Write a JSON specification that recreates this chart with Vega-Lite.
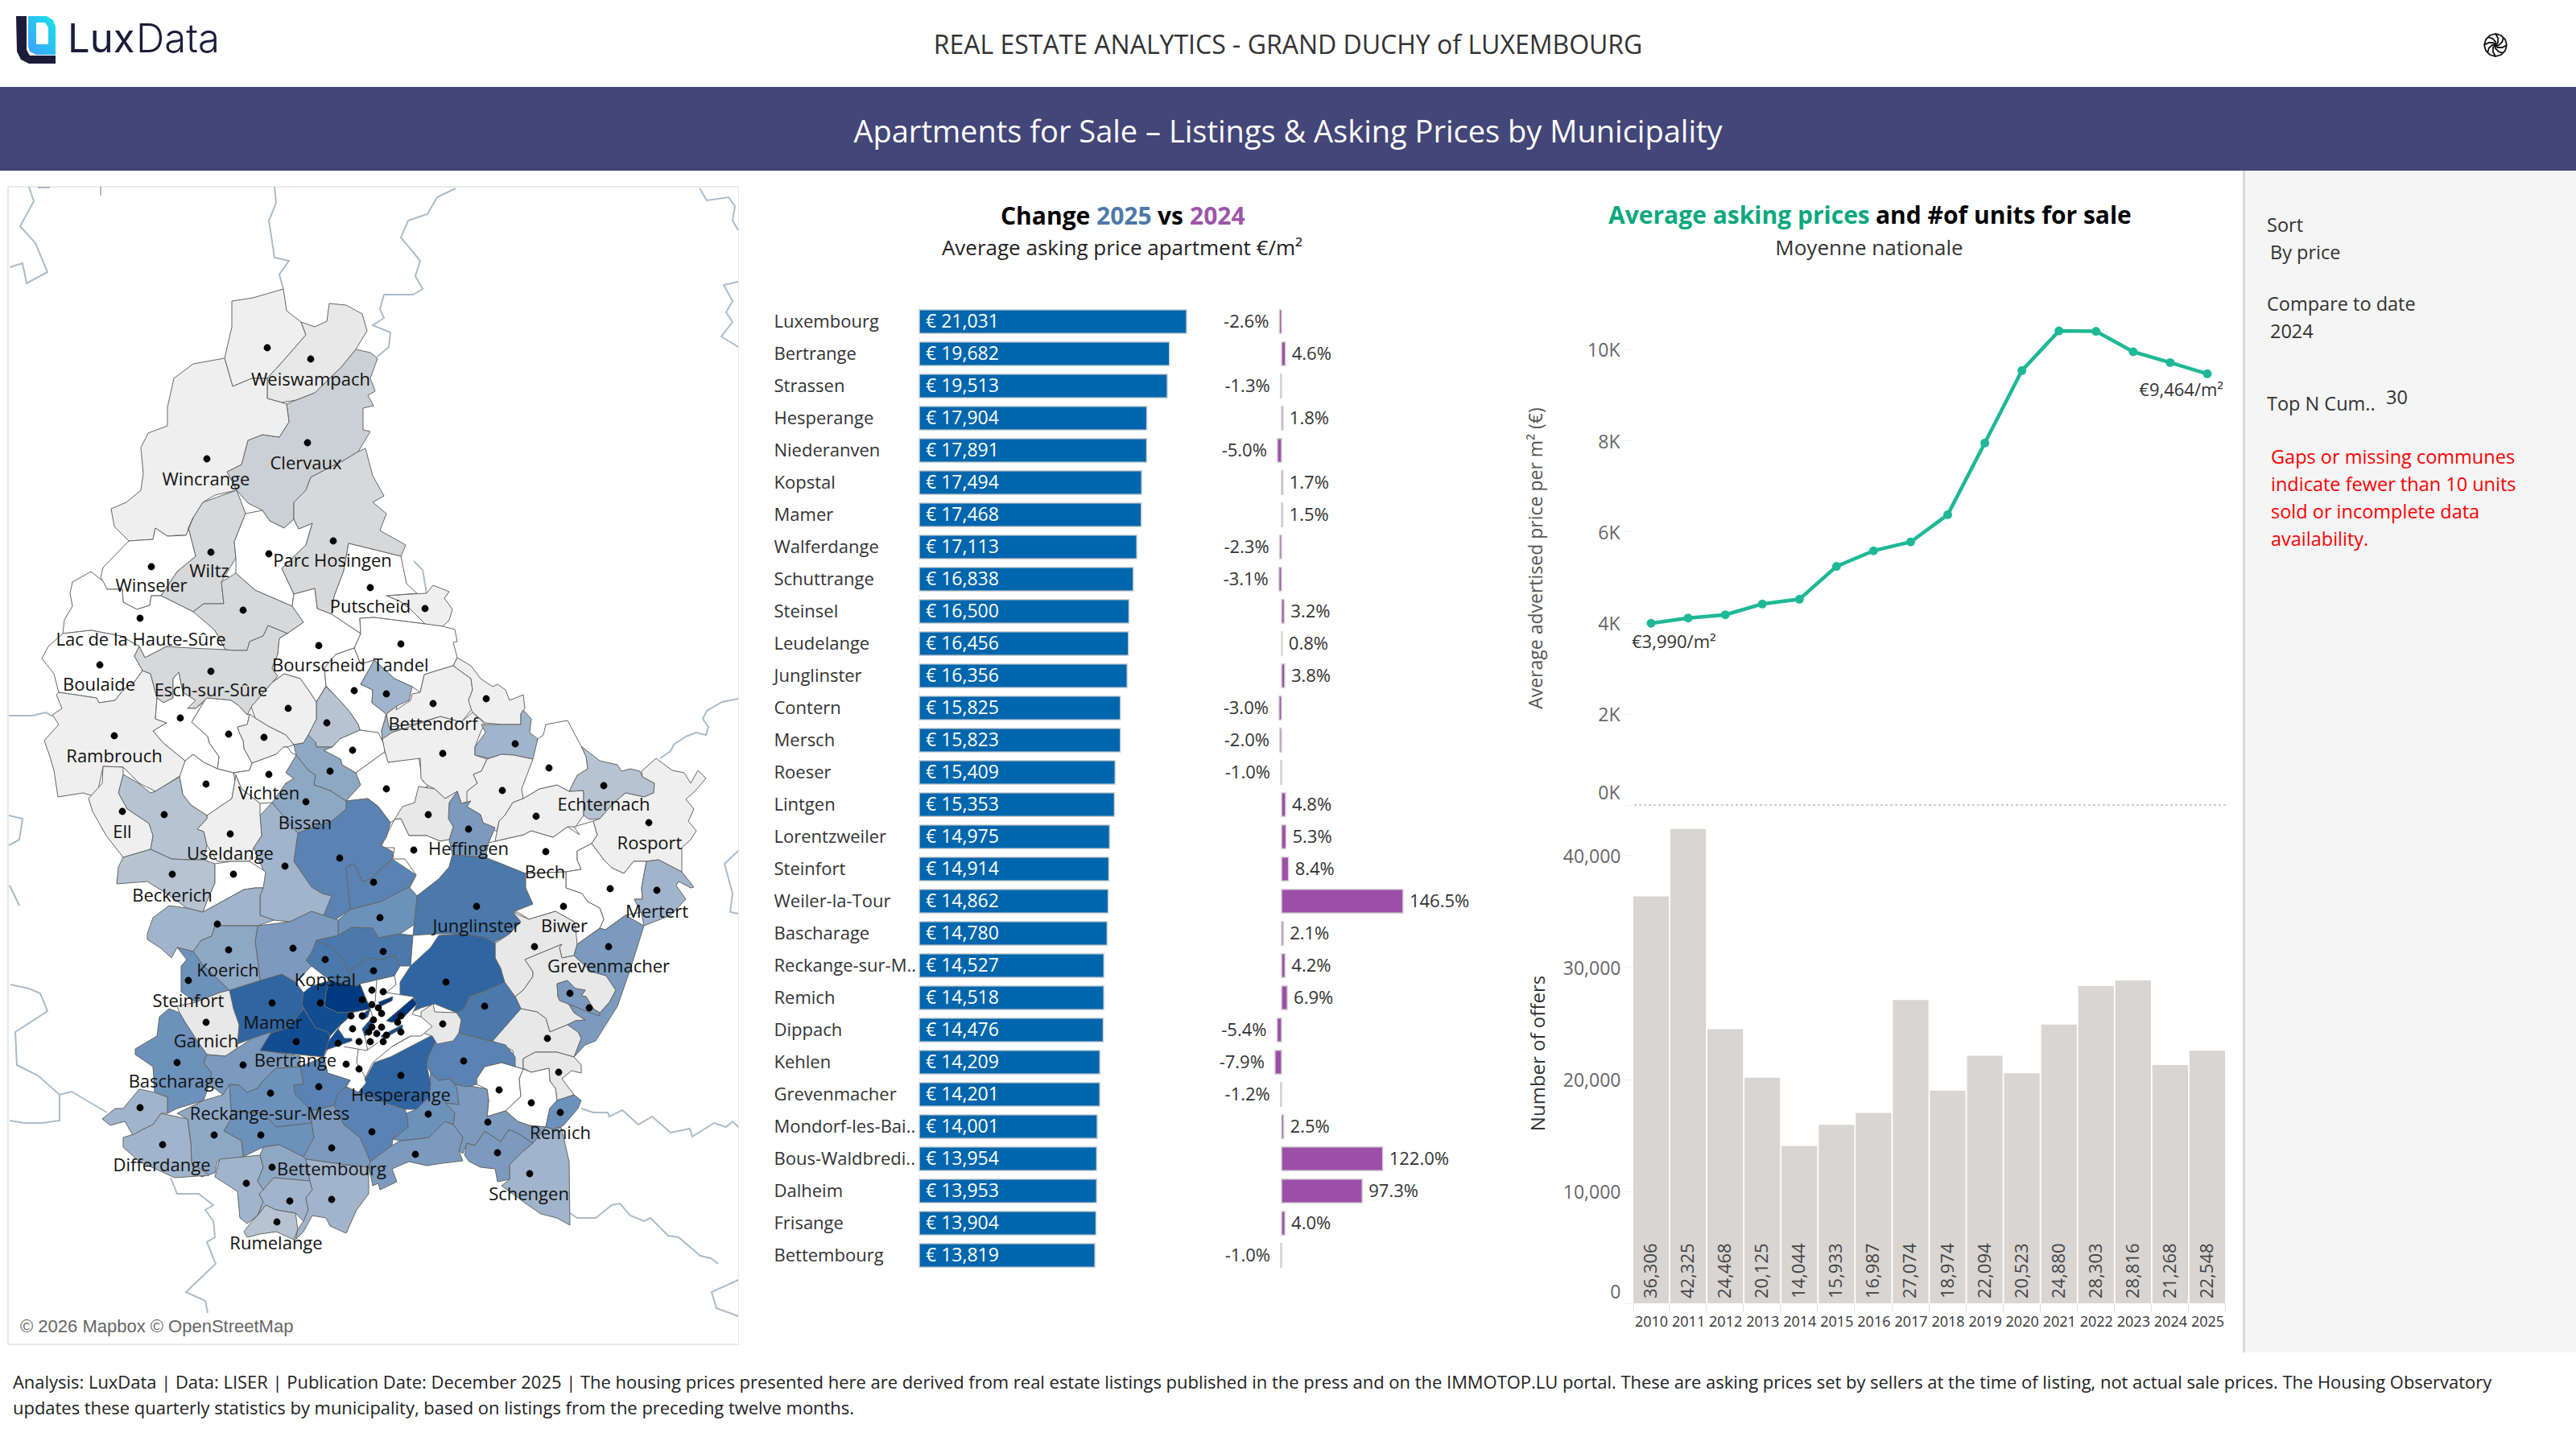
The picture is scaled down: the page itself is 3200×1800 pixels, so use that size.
{
"$schema":"https://vega.github.io/schema/vega-lite/v6.json",
"padding":0,"spacing":0,"background":"#ffffff",
"config":{"font":"Open Sans","view":{"stroke":null},"concat":{"spacing":0}},
"datasets":{
"one":[{"a":1}],
"rank":[
{"name":"Luxembourg","price":21031,"pct":-0.026},{"name":"Bertrange","price":19682,"pct":0.046},{"name":"Strassen","price":19513,"pct":-0.013},{"name":"Hesperange","price":17904,"pct":0.018},{"name":"Niederanven","price":17891,"pct":-0.05},{"name":"Kopstal","price":17494,"pct":0.017},{"name":"Mamer","price":17468,"pct":0.015},{"name":"Walferdange","price":17113,"pct":-0.023},{"name":"Schuttrange","price":16838,"pct":-0.031},{"name":"Steinsel","price":16500,"pct":0.032},{"name":"Leudelange","price":16456,"pct":0.008},{"name":"Junglinster","price":16356,"pct":0.038},{"name":"Contern","price":15825,"pct":-0.03},{"name":"Mersch","price":15823,"pct":-0.02},{"name":"Roeser","price":15409,"pct":-0.01},{"name":"Lintgen","price":15353,"pct":0.048},{"name":"Lorentzweiler","price":14975,"pct":0.053},{"name":"Steinfort","price":14914,"pct":0.084},{"name":"Weiler-la-Tour","price":14862,"pct":1.465},{"name":"Bascharage","price":14780,"pct":0.021},{"name":"Reckange-sur-M..","price":14527,"pct":0.042},{"name":"Remich","price":14518,"pct":0.069},{"name":"Dippach","price":14476,"pct":-0.054},{"name":"Kehlen","price":14209,"pct":-0.079},{"name":"Grevenmacher","price":14201,"pct":-0.012},{"name":"Mondorf-les-Bai..","price":14001,"pct":0.025},{"name":"Bous-Waldbredi..","price":13954,"pct":1.22},{"name":"Dalheim","price":13953,"pct":0.973},{"name":"Frisange","price":13904,"pct":0.04},{"name":"Bettembourg","price":13819,"pct":-0.01}],
"years":[
{"year":"2010","price":3990,"offers":36306},{"year":"2011","price":4104,"offers":42325},{"year":"2012","price":4174,"offers":24468},{"year":"2013","price":4411,"offers":20125},{"year":"2014","price":4517,"offers":14044},{"year":"2015","price":5237,"offers":15933},{"year":"2016","price":5580,"offers":16987},{"year":"2017","price":5773,"offers":27074},{"year":"2018","price":6371,"offers":18974},{"year":"2019","price":7944,"offers":22094},{"year":"2020","price":9534,"offers":20523},{"year":"2021","price":10404,"offers":24880},{"year":"2022","price":10396,"offers":28303},{"year":"2023","price":9947,"offers":28816},{"year":"2024","price":9710,"offers":21268},{"year":"2025","price":9464,"offers":22548}],
"communes":[
{"type":"Feature","properties":{"t":"t1"},"geometry":{"type":"Polygon","coordinates":[[[352,359],[356,386],[374,400],[380,416],[353,447],[332,470],[313,470],[289,480],[279,445],[288,406],[288,374],[314,370],[352,359]]]}},
{"type":"Feature","properties":{"t":"t2"},"geometry":{"type":"Polygon","coordinates":[[[374,400],[391,406],[406,399],[409,377],[430,379],[450,390],[456,411],[442,434],[424,456],[391,488],[368,497],[350,500],[332,495],[332,470],[353,447],[380,416],[374,400]]]}},
{"type":"Feature","properties":{"t":"t4"},"geometry":{"type":"Polygon","coordinates":[[[442,434],[460,438],[469,445],[460,470],[466,486],[457,491],[464,504],[451,507],[451,534],[460,536],[445,561],[427,572],[403,584],[386,593],[380,609],[365,624],[365,645],[353,656],[335,647],[326,634],[308,625],[294,609],[282,586],[300,577],[308,547],[326,540],[347,543],[359,524],[356,502],[368,497],[391,488],[424,456],[442,434]]]}},
{"type":"Feature","properties":{"t":"t1"},"geometry":{"type":"Polygon","coordinates":[[[279,445],[289,480],[313,470],[332,470],[332,495],[350,500],[356,502],[359,524],[347,543],[326,540],[308,547],[300,577],[282,586],[294,609],[267,615],[252,624],[240,643],[231,665],[219,665],[208,666],[193,656],[190,670],[160,672],[142,654],[138,632],[157,624],[175,609],[178,588],[175,556],[184,538],[208,529],[208,506],[216,470],[240,452],[279,445]]]}},
{"type":"Feature","properties":{"t":"t3"},"geometry":{"type":"Polygon","coordinates":[[[252,624],[294,609],[305,638],[291,673],[293,693],[275,723],[278,750],[253,750],[240,760],[200,740],[220,710],[243,691],[234,656],[240,643],[252,624]]]}},
{"type":"Feature","properties":{"t":"t0"},"geometry":{"type":"Polygon","coordinates":[[[160,672],[190,670],[193,656],[208,666],[231,665],[240,643],[234,656],[243,691],[220,710],[200,740],[188,740],[186,752],[170,757],[153,748],[152,732],[133,732],[125,717],[128,705],[160,672]]]}},
{"type":"Feature","properties":{"t":"t0"},"geometry":{"type":"Polygon","coordinates":[[[90,723],[113,710],[128,722],[133,732],[152,732],[153,748],[170,757],[186,752],[188,740],[200,740],[240,760],[253,750],[267,783],[280,807],[240,807],[207,803],[180,817],[173,803],[150,790],[113,783],[78,787],[80,770],[90,753],[87,737],[90,723]]]}},
{"type":"Feature","properties":{"t":"t0"},"geometry":{"type":"Polygon","coordinates":[[[78,787],[113,783],[150,790],[173,803],[167,815],[177,833],[167,847],[153,857],[143,870],[123,873],[120,867],[93,863],[73,860],[67,837],[52,818],[60,803],[78,787]]]}},
{"type":"Feature","properties":{"t":"t1"},"geometry":{"type":"Polygon","coordinates":[[[73,860],[93,863],[120,867],[123,873],[143,870],[153,857],[167,847],[177,833],[187,837],[195,867],[193,893],[207,898],[190,908],[203,923],[230,945],[225,963],[193,983],[173,973],[153,953],[128,952],[120,990],[103,985],[72,990],[67,957],[62,940],[55,920],[73,900],[65,888],[77,880],[70,863],[73,860]]]}},
{"type":"Feature","properties":{"t":"t3"},"geometry":{"type":"Polygon","coordinates":[[[240,760],[253,750],[278,750],[275,723],[293,712],[317,733],[340,743],[363,753],[377,773],[357,787],[333,777],[327,790],[310,797],[307,808],[290,808],[280,807],[267,783],[240,760]]]}},
{"type":"Feature","properties":{"t":"t3"},"geometry":{"type":"Polygon","coordinates":[[[167,815],[173,803],[180,817],[207,803],[237,805],[280,807],[290,808],[307,808],[310,797],[327,790],[333,777],[357,787],[347,793],[345,813],[338,830],[345,840],[338,848],[313,877],[307,888],[297,877],[287,870],[257,867],[243,880],[233,880],[243,870],[227,860],[222,835],[215,843],[215,867],[203,873],[195,867],[187,837],[177,833],[167,815]]]}},
{"type":"Feature","properties":{"t":"t0"},"geometry":{"type":"Polygon","coordinates":[[[305,638],[326,634],[335,647],[353,656],[365,645],[371,657],[388,650],[380,677],[350,706],[365,738],[363,753],[340,743],[317,733],[293,712],[293,693],[291,673],[305,638]]]}},
{"type":"Feature","properties":{"t":"t3"},"geometry":{"type":"Polygon","coordinates":[[[403,584],[427,572],[445,561],[454,557],[463,591],[477,616],[463,624],[480,638],[472,659],[504,677],[498,691],[433,675],[427,709],[415,741],[412,763],[394,756],[391,731],[365,738],[350,706],[380,677],[388,650],[371,657],[365,645],[365,624],[380,609],[386,593],[403,584]]]}},
{"type":"Feature","properties":{"t":"t1"},"geometry":{"type":"Polygon","coordinates":[[[480,740],[510,738],[530,737],[538,727],[558,735],[552,743],[562,757],[558,770],[550,778],[540,778],[528,775],[510,757],[497,747],[480,740]]]}},
{"type":"Feature","properties":{"t":"t0"},"geometry":{"type":"Polygon","coordinates":[[[433,675],[498,691],[505,725],[518,737],[480,740],[497,747],[510,757],[528,775],[465,767],[447,768],[448,787],[430,775],[412,763],[415,741],[427,709],[433,675]]]}},
{"type":"Feature","properties":{"t":"t0"},"geometry":{"type":"Polygon","coordinates":[[[448,787],[447,768],[465,767],[528,775],[550,778],[565,782],[568,797],[563,798],[568,817],[563,827],[543,833],[527,838],[522,860],[512,853],[490,843],[465,820],[448,825],[440,805],[448,787]]]}},
{"type":"Feature","properties":{"t":"t0"},"geometry":{"type":"Polygon","coordinates":[[[365,738],[391,731],[394,756],[412,763],[430,775],[448,787],[440,805],[417,813],[403,830],[405,852],[393,872],[383,857],[373,843],[353,837],[338,848],[345,840],[338,830],[345,813],[347,793],[357,787],[377,773],[363,753],[365,738]]]}},
{"type":"Feature","properties":{"t":"t0"},"geometry":{"type":"Polygon","coordinates":[[[405,852],[403,830],[417,813],[440,805],[448,825],[465,820],[448,850],[463,857],[462,873],[480,887],[474,908],[475,920],[455,908],[447,907],[445,900],[435,885],[422,870],[405,852]]]}},
{"type":"Feature","properties":{"t":"t6"},"geometry":{"type":"Polygon","coordinates":[[[465,820],[490,843],[512,853],[508,870],[493,877],[480,887],[485,907],[500,905],[475,920],[474,908],[480,887],[462,873],[463,857],[448,850],[465,820]]]}},
{"type":"Feature","properties":{"t":"t5"},"geometry":{"type":"Polygon","coordinates":[[[393,872],[405,853],[422,870],[435,885],[445,900],[447,907],[422,918],[413,928],[393,928],[392,922],[383,913],[393,893],[393,872]]]}},
{"type":"Feature","properties":{"t":"t1"},"geometry":{"type":"Polygon","coordinates":[[[312,878],[338,848],[353,837],[373,843],[383,857],[393,872],[393,893],[383,913],[377,923],[365,925],[355,913],[333,902],[317,892],[312,878]]]}},
{"type":"Feature","properties":{"t":"t1"},"geometry":{"type":"Polygon","coordinates":[[[295,903],[307,900],[310,887],[317,892],[333,902],[355,913],[365,925],[357,928],[352,928],[343,937],[313,948],[303,930],[302,920],[297,910],[295,903]]]}},
{"type":"Feature","properties":{"t":"t0"},"geometry":{"type":"Polygon","coordinates":[[[238,897],[253,872],[257,867],[287,870],[297,877],[307,888],[310,887],[307,900],[295,903],[297,910],[302,920],[303,930],[313,948],[310,957],[290,960],[270,955],[272,940],[260,923],[258,915],[238,897]]]}},
{"type":"Feature","properties":{"t":"t0"},"geometry":{"type":"Polygon","coordinates":[[[195,867],[203,873],[215,867],[215,843],[222,835],[227,860],[243,870],[233,880],[243,880],[253,872],[238,897],[258,915],[260,923],[272,940],[270,955],[253,947],[240,937],[230,945],[203,923],[190,908],[207,898],[193,893],[195,867]]]}},
{"type":"Feature","properties":{"t":"t7"},"geometry":{"type":"Polygon","coordinates":[[[365,925],[377,923],[383,913],[392,922],[393,928],[413,928],[402,932],[423,943],[425,950],[442,960],[448,975],[437,987],[430,995],[410,982],[390,975],[392,963],[383,957],[368,938],[365,925]]]}},
{"type":"Feature","properties":{"t":"t0"},"geometry":{"type":"Polygon","coordinates":[[[402,932],[413,928],[422,918],[447,907],[470,910],[478,927],[478,934],[442,960],[425,950],[423,943],[402,932]]]}},
{"type":"Feature","properties":{"t":"t0"},"geometry":{"type":"Polygon","coordinates":[[[442,960],[478,934],[483,947],[520,940],[525,970],[532,977],[522,980],[517,1000],[492,1017],[485,1022],[470,1002],[457,992],[430,995],[437,987],[448,975],[442,960]]]}},
{"type":"Feature","properties":{"t":"t1"},"geometry":{"type":"Polygon","coordinates":[[[492,882],[510,870],[512,862],[522,860],[527,838],[543,833],[563,827],[585,843],[587,857],[582,870],[587,880],[573,897],[547,890],[513,900],[483,903],[480,887],[493,877],[492,882]]]}},
{"type":"Feature","properties":{"t":"t1"},"geometry":{"type":"Polygon","coordinates":[[[475,918],[487,910],[547,890],[573,897],[587,885],[603,900],[598,907],[590,928],[590,938],[605,943],[598,958],[588,962],[593,973],[580,983],[585,995],[573,998],[568,983],[553,992],[540,980],[530,975],[523,967],[522,942],[482,947],[478,933],[475,918]]]}},
{"type":"Feature","properties":{"t":"t1"},"geometry":{"type":"Polygon","coordinates":[[[563,827],[568,817],[585,827],[597,843],[612,853],[618,850],[628,857],[633,870],[650,863],[652,880],[647,887],[647,900],[623,900],[603,898],[587,885],[585,880],[582,870],[587,857],[585,843],[563,827]]]}},
{"type":"Feature","properties":{"t":"t6"},"geometry":{"type":"Polygon","coordinates":[[[598,900],[623,900],[647,900],[647,887],[650,882],[660,893],[658,910],[668,918],[668,933],[662,943],[638,938],[623,937],[607,942],[590,938],[590,928],[603,910],[598,900]]]}},
{"type":"Feature","properties":{"t":"t1"},"geometry":{"type":"Polygon","coordinates":[[[605,943],[623,937],[638,938],[662,943],[660,963],[652,977],[650,992],[637,997],[627,1013],[620,1020],[617,1033],[600,1022],[597,1012],[580,1002],[580,983],[593,973],[588,962],[598,958],[605,943]]]}},
{"type":"Feature","properties":{"t":"t8"},"geometry":{"type":"Polygon","coordinates":[[[568,983],[573,998],[585,995],[580,1002],[597,1012],[600,1022],[615,1028],[607,1047],[603,1065],[562,1062],[558,1043],[563,1027],[557,1017],[558,997],[568,983]]]}},
{"type":"Feature","properties":{"t":"t2"},"geometry":{"type":"Polygon","coordinates":[[[520,977],[540,980],[553,992],[568,983],[558,997],[557,1017],[563,1027],[558,1043],[547,1045],[530,1038],[508,1038],[498,1017],[490,1018],[500,1002],[515,997],[520,977]]]}},
{"type":"Feature","properties":{"t":"t0"},"geometry":{"type":"Polygon","coordinates":[[[490,1018],[498,1017],[508,1038],[530,1038],[547,1045],[558,1043],[562,1062],[558,1077],[545,1092],[518,1113],[509,1103],[517,1087],[503,1067],[488,1067],[490,1053],[473,1053],[478,1042],[490,1018]]]}},
{"type":"Feature","properties":{"t":"t10"},"geometry":{"type":"Polygon","coordinates":[[[430,995],[457,992],[470,1002],[485,1022],[480,1040],[473,1050],[488,1058],[487,1067],[460,1092],[450,1095],[440,1073],[430,1077],[435,1130],[413,1145],[402,1137],[412,1113],[400,1110],[387,1102],[365,1070],[370,1035],[390,1027],[412,1020],[430,1005],[430,995]]]}},
{"type":"Feature","properties":{"t":"t10"},"geometry":{"type":"Polygon","coordinates":[[[430,1077],[440,1073],[450,1095],[460,1092],[487,1067],[517,1087],[508,1102],[473,1120],[435,1130],[430,1077]]]}},
{"type":"Feature","properties":{"t":"t9"},"geometry":{"type":"Polygon","coordinates":[[[435,1130],[473,1120],[508,1102],[518,1113],[517,1147],[497,1160],[470,1165],[463,1153],[437,1152],[420,1162],[420,1143],[435,1130]]]}},
{"type":"Feature","properties":{"t":"t11"},"geometry":{"type":"Polygon","coordinates":[[[562,1062],[603,1065],[653,1085],[653,1103],[662,1123],[637,1133],[647,1145],[633,1160],[615,1170],[610,1177],[603,1165],[577,1160],[540,1160],[513,1162],[518,1113],[545,1092],[558,1077],[562,1062]]]}},
{"type":"Feature","properties":{"t":"t0"},"geometry":{"type":"Polygon","coordinates":[[[607,1047],[650,1037],[660,1032],[687,1040],[705,1027],[720,1037],[713,1027],[737,1020],[742,1037],[735,1048],[717,1057],[717,1068],[722,1080],[703,1083],[653,1085],[603,1065],[607,1047]]]}},
{"type":"Feature","properties":{"t":"t1"},"geometry":{"type":"Polygon","coordinates":[[[650,992],[670,980],[692,975],[707,983],[725,982],[725,1013],[715,1027],[705,1027],[687,1040],[660,1032],[650,1037],[615,1045],[620,1020],[627,1013],[637,997],[650,992]]]}},
{"type":"Feature","properties":{"t":"t5"},"geometry":{"type":"Polygon","coordinates":[[[722,927],[745,945],[767,950],[772,958],[783,955],[795,958],[798,965],[813,973],[812,985],[800,990],[777,985],[763,997],[745,1017],[732,1018],[725,1013],[725,982],[707,983],[717,963],[730,955],[728,940],[722,927]]]}},
{"type":"Feature","properties":{"t":"t0"},"geometry":{"type":"Polygon","coordinates":[[[678,900],[705,895],[722,927],[728,940],[730,955],[717,963],[707,983],[692,975],[670,980],[650,992],[648,980],[662,943],[668,918],[675,913],[678,900]]]}},
{"type":"Feature","properties":{"t":"t1"},"geometry":{"type":"Polygon","coordinates":[[[797,958],[815,942],[835,957],[850,960],[858,973],[867,957],[877,967],[863,983],[852,993],[862,1005],[855,1020],[865,1032],[858,1043],[847,1053],[847,1083],[818,1068],[803,1070],[787,1070],[775,1085],[760,1078],[750,1068],[735,1048],[742,1037],[737,1020],[745,1017],[763,997],[777,985],[800,990],[812,985],[813,973],[798,965],[797,958]]]}},
{"type":"Feature","properties":{"t":"t0"},"geometry":{"type":"Polygon","coordinates":[[[717,1057],[735,1048],[750,1068],[760,1078],[775,1085],[787,1070],[803,1070],[797,1103],[798,1117],[788,1117],[797,1133],[777,1137],[752,1155],[745,1153],[750,1142],[745,1128],[730,1120],[723,1110],[703,1103],[703,1083],[722,1080],[717,1068],[717,1057]]]}},
{"type":"Feature","properties":{"t":"t6"},"geometry":{"type":"Polygon","coordinates":[[[803,1070],[818,1068],[847,1083],[862,1102],[858,1103],[843,1095],[840,1100],[852,1117],[833,1137],[800,1150],[797,1135],[788,1117],[798,1117],[797,1103],[803,1070]]]}},
{"type":"Feature","properties":{"t":"t0"},"geometry":{"type":"Polygon","coordinates":[[[653,1085],[703,1083],[703,1103],[723,1110],[730,1120],[745,1128],[750,1142],[745,1153],[717,1173],[713,1160],[713,1145],[690,1132],[657,1142],[643,1133],[637,1133],[662,1123],[653,1103],[653,1085]]]}},
{"type":"Feature","properties":{"t":"t2"},"geometry":{"type":"Polygon","coordinates":[[[637,1133],[657,1142],[690,1132],[713,1145],[715,1153],[717,1173],[713,1187],[698,1190],[695,1177],[698,1173],[652,1192],[662,1207],[662,1213],[650,1230],[640,1238],[627,1230],[622,1203],[615,1190],[615,1172],[633,1160],[647,1145],[637,1133]]]}},
{"type":"Feature","properties":{"t":"t2"},"geometry":{"type":"Polygon","coordinates":[[[698,1173],[695,1177],[698,1190],[713,1187],[735,1207],[753,1212],[757,1218],[765,1230],[757,1245],[745,1258],[737,1253],[728,1238],[722,1237],[727,1230],[715,1228],[705,1218],[692,1222],[693,1238],[707,1248],[713,1258],[727,1267],[715,1268],[705,1273],[683,1282],[678,1265],[667,1257],[647,1253],[640,1238],[650,1230],[662,1213],[662,1207],[652,1192],[698,1173]]]}},
{"type":"Feature","properties":{"t":"t8"},"geometry":{"type":"Polygon","coordinates":[[[745,1153],[752,1155],[777,1137],[800,1150],[782,1207],[767,1250],[740,1293],[727,1298],[713,1313],[722,1290],[718,1282],[705,1273],[715,1268],[727,1267],[713,1258],[707,1248],[745,1260],[757,1245],[765,1230],[757,1218],[753,1212],[735,1207],[713,1187],[717,1173],[745,1153]]]}},
{"type":"Feature","properties":{"t":"t8"},"geometry":{"type":"Polygon","coordinates":[[[692,1222],[705,1218],[715,1228],[727,1230],[722,1237],[728,1238],[737,1253],[745,1258],[745,1262],[733,1258],[713,1250],[695,1243],[693,1238],[692,1222]]]}},
{"type":"Feature","properties":{"t":"t2"},"geometry":{"type":"Polygon","coordinates":[[[647,1253],[667,1257],[678,1265],[683,1282],[705,1273],[718,1282],[722,1290],[713,1313],[692,1307],[665,1307],[650,1315],[650,1328],[640,1325],[637,1305],[612,1293],[647,1253]]]}},
{"type":"Feature","properties":{"t":"t2"},"geometry":{"type":"Polygon","coordinates":[[[665,1307],[692,1307],[713,1313],[722,1323],[722,1333],[710,1330],[698,1340],[713,1360],[692,1367],[690,1352],[683,1343],[682,1327],[660,1332],[650,1327],[650,1315],[665,1307]]]}},
{"type":"Feature","properties":{"t":"t0"},"geometry":{"type":"Polygon","coordinates":[[[592,1340],[602,1325],[623,1320],[640,1325],[650,1328],[645,1340],[647,1362],[628,1380],[605,1387],[607,1367],[605,1353],[592,1347],[592,1340]]]}},
{"type":"Feature","properties":{"t":"t0"},"geometry":{"type":"Polygon","coordinates":[[[650,1328],[660,1332],[682,1327],[683,1343],[690,1352],[692,1367],[683,1377],[678,1400],[657,1398],[643,1393],[628,1380],[647,1362],[645,1340],[650,1328]]]}},
{"type":"Feature","properties":{"t":"t9"},"geometry":{"type":"Polygon","coordinates":[[[692,1367],[713,1360],[722,1367],[718,1377],[700,1398],[687,1403],[678,1400],[683,1377],[692,1367]]]}},
{"type":"Feature","properties":{"t":"t6"},"geometry":{"type":"Polygon","coordinates":[[[662,1420],[678,1400],[687,1403],[697,1400],[707,1443],[708,1522],[692,1513],[672,1508],[653,1495],[623,1473],[633,1465],[633,1447],[650,1430],[662,1420]]]}},
{"type":"Feature","properties":{"t":"t8"},"geometry":{"type":"Polygon","coordinates":[[[577,1435],[580,1420],[590,1423],[602,1405],[622,1418],[632,1403],[642,1407],[662,1420],[650,1430],[633,1447],[633,1465],[618,1468],[615,1452],[597,1450],[583,1443],[577,1435]]]}},
{"type":"Feature","properties":{"t":"t8"},"geometry":{"type":"Polygon","coordinates":[[[565,1347],[590,1350],[605,1353],[607,1367],[605,1387],[628,1380],[643,1393],[657,1398],[678,1400],[662,1420],[642,1407],[632,1403],[622,1418],[602,1405],[590,1423],[580,1420],[575,1433],[570,1430],[575,1413],[563,1397],[565,1383],[553,1370],[570,1372],[565,1347]]]}},
{"type":"Feature","properties":{"t":"t8"},"geometry":{"type":"Polygon","coordinates":[[[553,1393],[563,1397],[575,1413],[570,1430],[575,1442],[550,1445],[530,1448],[508,1443],[487,1452],[493,1468],[472,1478],[470,1470],[463,1473],[457,1443],[487,1423],[497,1417],[517,1415],[533,1413],[553,1393]]]}},
{"type":"Feature","properties":{"t":"t9"},"geometry":{"type":"Polygon","coordinates":[[[535,1333],[545,1342],[558,1340],[567,1350],[570,1372],[553,1370],[565,1383],[563,1397],[553,1393],[533,1413],[517,1415],[497,1417],[488,1415],[507,1400],[505,1383],[517,1378],[533,1363],[535,1333]]]}},
{"type":"Feature","properties":{"t":"t12"},"geometry":{"type":"Polygon","coordinates":[[[465,1320],[485,1313],[535,1287],[543,1290],[532,1313],[530,1323],[535,1347],[533,1363],[517,1378],[503,1378],[473,1368],[440,1362],[447,1350],[453,1342],[465,1320]]]}},
{"type":"Feature","properties":{"t":"t10"},"geometry":{"type":"Polygon","coordinates":[[[543,1290],[570,1283],[605,1292],[628,1298],[640,1313],[640,1325],[623,1320],[602,1325],[592,1340],[592,1347],[580,1350],[565,1347],[558,1340],[545,1342],[535,1333],[530,1323],[532,1313],[543,1290]]]}},
{"type":"Feature","properties":{"t":"t12"},"geometry":{"type":"Polygon","coordinates":[[[497,1220],[510,1200],[535,1177],[545,1162],[577,1160],[603,1165],[615,1172],[615,1190],[622,1203],[627,1220],[600,1232],[583,1238],[577,1253],[567,1258],[540,1247],[523,1252],[512,1257],[518,1247],[512,1238],[497,1240],[497,1220]]]}},
{"type":"Feature","properties":{"t":"t11"},"geometry":{"type":"Polygon","coordinates":[[[627,1220],[640,1238],[647,1253],[612,1293],[605,1292],[570,1283],[573,1267],[567,1258],[577,1253],[583,1238],[600,1232],[627,1220]]]}},
{"type":"Feature","properties":{"t":"t2"},"geometry":{"type":"Polygon","coordinates":[[[538,1247],[540,1257],[567,1258],[573,1267],[570,1283],[563,1293],[543,1297],[537,1287],[525,1283],[535,1275],[523,1265],[523,1257],[538,1247]]]}},
{"type":"Feature","properties":{"t":"t0"},"geometry":{"type":"Polygon","coordinates":[[[447,1222],[490,1212],[492,1223],[480,1233],[513,1238],[518,1247],[512,1260],[523,1263],[537,1275],[523,1287],[510,1287],[487,1300],[463,1320],[453,1340],[455,1345],[445,1357],[430,1350],[435,1342],[407,1333],[402,1313],[423,1273],[440,1257],[460,1253],[453,1237],[447,1222]]]}},
{"type":"Feature","properties":{"t":"t14"},"geometry":{"type":"Polygon","coordinates":[[[470,1245],[488,1238],[487,1243],[473,1250],[470,1245]]]}},
{"type":"Feature","properties":{"t":"t14"},"geometry":{"type":"Polygon","coordinates":[[[480,1268],[513,1240],[518,1247],[500,1265],[487,1270],[480,1268]]]}},
{"type":"Feature","properties":{"t":"t13"},"geometry":{"type":"Polygon","coordinates":[[[450,1278],[463,1263],[460,1283],[453,1287],[450,1278]]]}},
{"type":"Feature","properties":{"t":"t13"},"geometry":{"type":"Polygon","coordinates":[[[403,1300],[420,1278],[428,1290],[437,1290],[437,1293],[403,1305],[403,1300]]]}},
{"type":"Feature","properties":{"t":"t13"},"geometry":{"type":"Polygon","coordinates":[[[447,1262],[460,1253],[457,1263],[450,1267],[447,1262]]]}},
{"type":"Feature","properties":{"t":"t13"},"geometry":{"type":"Polygon","coordinates":[[[473,1287],[500,1273],[500,1277],[477,1290],[473,1287]]]}},
{"type":"Feature","properties":{"t":"t14"},"geometry":{"type":"Polygon","coordinates":[[[447,1222],[453,1237],[460,1253],[440,1257],[420,1258],[403,1250],[405,1232],[410,1218],[447,1222]]]}},
{"type":"Feature","properties":{"t":"t13"},"geometry":{"type":"Polygon","coordinates":[[[405,1232],[403,1250],[420,1258],[440,1257],[423,1273],[410,1287],[407,1282],[392,1277],[380,1257],[375,1248],[377,1233],[387,1225],[410,1218],[405,1232]]]}},
{"type":"Feature","properties":{"t":"t13"},"geometry":{"type":"Polygon","coordinates":[[[377,1253],[392,1277],[407,1282],[410,1287],[402,1313],[340,1307],[323,1305],[327,1297],[337,1283],[357,1277],[368,1265],[377,1253]]]}},
{"type":"Feature","properties":{"t":"t12"},"geometry":{"type":"Polygon","coordinates":[[[285,1230],[323,1218],[350,1210],[367,1220],[377,1233],[375,1248],[377,1253],[368,1265],[357,1277],[337,1283],[313,1290],[295,1297],[297,1273],[290,1253],[285,1230]]]}},
{"type":"Feature","properties":{"t":"t11"},"geometry":{"type":"Polygon","coordinates":[[[380,1193],[387,1183],[393,1168],[412,1177],[425,1190],[433,1207],[443,1225],[410,1218],[387,1200],[380,1193]]]}},
{"type":"Feature","properties":{"t":"t11"},"geometry":{"type":"Polygon","coordinates":[[[393,1168],[420,1162],[437,1152],[463,1153],[470,1165],[497,1160],[513,1162],[510,1200],[497,1200],[490,1187],[472,1192],[457,1190],[433,1207],[425,1190],[412,1177],[393,1168]]]}},
{"type":"Feature","properties":{"t":"t11"},"geometry":{"type":"Polygon","coordinates":[[[433,1207],[457,1190],[472,1192],[490,1187],[497,1200],[490,1212],[447,1222],[443,1225],[433,1207]]]}},
{"type":"Feature","properties":{"t":"t8"},"geometry":{"type":"Polygon","coordinates":[[[320,1150],[360,1145],[387,1132],[402,1137],[420,1143],[420,1162],[393,1168],[387,1183],[380,1193],[387,1200],[367,1220],[350,1210],[323,1218],[320,1192],[317,1170],[320,1150]]]}},
{"type":"Feature","properties":{"t":"t6"},"geometry":{"type":"Polygon","coordinates":[[[338,997],[370,1035],[365,1070],[387,1102],[400,1110],[412,1113],[402,1137],[387,1132],[360,1145],[340,1143],[323,1137],[323,1113],[328,1083],[315,1053],[325,1038],[323,1013],[338,997]]]}},
{"type":"Feature","properties":{"t":"t7"},"geometry":{"type":"Polygon","coordinates":[[[355,960],[368,938],[383,957],[392,963],[390,975],[410,982],[430,995],[430,1005],[412,1020],[390,1027],[370,1035],[338,997],[355,973],[365,967],[355,960]]]}},
{"type":"Feature","properties":{"t":"t0"},"geometry":{"type":"Polygon","coordinates":[[[290,960],[310,957],[313,948],[343,937],[352,928],[357,928],[362,935],[368,938],[355,960],[365,967],[355,973],[338,997],[323,998],[300,980],[293,963],[290,960]]]}},
{"type":"Feature","properties":{"t":"t0"},"geometry":{"type":"Polygon","coordinates":[[[230,945],[240,937],[253,947],[270,955],[290,960],[292,970],[288,992],[262,1010],[257,1013],[237,1000],[227,987],[223,965],[230,945]]]}},
{"type":"Feature","properties":{"t":"t1"},"geometry":{"type":"Polygon","coordinates":[[[257,1013],[288,992],[293,963],[300,980],[323,998],[323,1013],[325,1038],[315,1053],[310,1070],[287,1070],[270,1070],[257,1050],[253,1033],[245,1030],[257,1017],[257,1013]]]}},
{"type":"Feature","properties":{"t":"t5"},"geometry":{"type":"Polygon","coordinates":[[[153,962],[172,973],[187,985],[193,983],[223,965],[227,987],[237,1000],[257,1013],[257,1017],[245,1030],[253,1033],[257,1050],[253,1068],[233,1068],[213,1067],[187,1055],[190,1038],[185,1023],[158,1005],[147,985],[153,962]]]}},
{"type":"Feature","properties":{"t":"t1"},"geometry":{"type":"Polygon","coordinates":[[[128,952],[153,953],[153,962],[147,985],[158,1005],[185,1023],[190,1038],[187,1055],[153,1065],[132,1038],[115,1008],[110,992],[127,973],[128,952]]]}},
{"type":"Feature","properties":{"t":"t5"},"geometry":{"type":"Polygon","coordinates":[[[153,1065],[187,1055],[213,1067],[233,1068],[253,1068],[267,1073],[267,1097],[257,1120],[252,1133],[232,1128],[210,1112],[183,1095],[145,1098],[147,1077],[153,1065]]]}},
{"type":"Feature","properties":{"t":"t0"},"geometry":{"type":"Polygon","coordinates":[[[267,1073],[287,1070],[310,1070],[330,1083],[327,1103],[317,1103],[303,1105],[252,1133],[257,1120],[267,1097],[267,1073]]]}},
{"type":"Feature","properties":{"t":"t6"},"geometry":{"type":"Polygon","coordinates":[[[183,1160],[190,1140],[210,1125],[232,1128],[252,1133],[303,1105],[317,1103],[327,1103],[323,1113],[323,1137],[340,1143],[320,1150],[267,1150],[263,1163],[250,1168],[240,1182],[220,1177],[213,1190],[200,1178],[183,1167],[183,1160]]]}},
{"type":"Feature","properties":{"t":"t7"},"geometry":{"type":"Polygon","coordinates":[[[240,1182],[250,1168],[263,1163],[267,1150],[320,1150],[317,1170],[320,1192],[323,1218],[285,1230],[267,1213],[253,1200],[240,1182]]]}},
{"type":"Feature","properties":{"t":"t9"},"geometry":{"type":"Polygon","coordinates":[[[220,1177],[240,1182],[253,1200],[267,1213],[285,1230],[273,1233],[243,1245],[225,1232],[225,1200],[232,1192],[220,1177]]]}},
{"type":"Feature","properties":{"t":"t2"},"geometry":{"type":"Polygon","coordinates":[[[285,1230],[290,1253],[297,1273],[295,1297],[295,1302],[280,1312],[257,1310],[245,1293],[230,1270],[223,1258],[220,1250],[243,1245],[273,1233],[285,1230]]]}},
{"type":"Feature","properties":{"t":"t9"},"geometry":{"type":"Polygon","coordinates":[[[210,1253],[223,1258],[230,1270],[245,1293],[257,1310],[253,1320],[263,1333],[260,1347],[253,1367],[220,1377],[208,1383],[208,1363],[192,1357],[190,1325],[168,1310],[168,1303],[195,1287],[198,1263],[210,1253]]]}},
{"type":"Feature","properties":{"t":"t8"},"geometry":{"type":"Polygon","coordinates":[[[257,1310],[280,1312],[295,1302],[313,1290],[337,1282],[323,1305],[340,1307],[373,1312],[373,1325],[343,1327],[327,1342],[320,1352],[307,1357],[297,1348],[285,1347],[277,1360],[260,1347],[263,1333],[253,1320],[257,1310]]]}},
{"type":"Feature","properties":{"t":"t9"},"geometry":{"type":"Polygon","coordinates":[[[343,1327],[373,1325],[377,1347],[365,1348],[367,1360],[387,1380],[387,1395],[343,1400],[327,1383],[287,1380],[285,1347],[297,1348],[307,1357],[320,1352],[327,1342],[343,1327]]]}},
{"type":"Feature","properties":{"t":"t10"},"geometry":{"type":"Polygon","coordinates":[[[373,1325],[402,1313],[407,1333],[435,1342],[430,1350],[420,1358],[415,1373],[387,1380],[367,1360],[365,1348],[377,1347],[373,1325]]]}},
{"type":"Feature","properties":{"t":"t10"},"geometry":{"type":"Polygon","coordinates":[[[420,1358],[430,1350],[445,1357],[473,1368],[503,1378],[505,1383],[507,1400],[488,1415],[487,1423],[460,1443],[447,1413],[427,1397],[415,1373],[420,1358]]]}},
{"type":"Feature","properties":{"t":"t8"},"geometry":{"type":"Polygon","coordinates":[[[387,1395],[387,1380],[415,1373],[427,1397],[447,1413],[460,1443],[458,1450],[430,1447],[380,1440],[373,1438],[390,1413],[387,1395]]]}},
{"type":"Feature","properties":{"t":"t9"},"geometry":{"type":"Polygon","coordinates":[[[287,1380],[327,1383],[343,1400],[387,1395],[390,1413],[377,1437],[347,1422],[327,1425],[302,1437],[300,1417],[278,1405],[287,1390],[287,1380]]]}},
{"type":"Feature","properties":{"t":"t7"},"geometry":{"type":"Polygon","coordinates":[[[220,1383],[253,1367],[277,1360],[285,1347],[287,1380],[287,1390],[278,1405],[300,1417],[302,1437],[270,1443],[267,1457],[250,1462],[238,1445],[237,1420],[233,1390],[220,1383]]]}},
{"type":"Feature","properties":{"t":"t6"},"geometry":{"type":"Polygon","coordinates":[[[153,1413],[163,1410],[177,1403],[190,1397],[200,1383],[233,1390],[237,1420],[238,1445],[260,1460],[217,1463],[173,1443],[153,1425],[153,1413]]]}},
{"type":"Feature","properties":{"t":"t6"},"geometry":{"type":"Polygon","coordinates":[[[127,1390],[143,1377],[153,1377],[173,1353],[192,1357],[208,1363],[208,1383],[200,1383],[190,1397],[177,1403],[165,1410],[155,1393],[137,1398],[127,1390]]]}},
{"type":"Feature","properties":{"t":"t6"},"geometry":{"type":"Polygon","coordinates":[[[267,1462],[273,1440],[302,1437],[323,1435],[327,1450],[320,1467],[327,1478],[322,1483],[327,1493],[320,1510],[307,1520],[298,1513],[295,1480],[267,1462]]]}},
{"type":"Feature","properties":{"t":"t7"},"geometry":{"type":"Polygon","coordinates":[[[323,1435],[327,1425],[347,1422],[377,1437],[380,1440],[385,1467],[340,1463],[327,1478],[320,1467],[327,1450],[323,1435]]]}},
{"type":"Feature","properties":{"t":"t6"},"geometry":{"type":"Polygon","coordinates":[[[327,1478],[340,1463],[385,1467],[388,1478],[380,1488],[383,1503],[377,1517],[367,1507],[343,1503],[330,1497],[320,1510],[327,1493],[322,1483],[327,1478]]]}},
{"type":"Feature","properties":{"t":"t6"},"geometry":{"type":"Polygon","coordinates":[[[385,1467],[380,1440],[430,1447],[458,1450],[458,1483],[443,1503],[430,1532],[410,1523],[405,1513],[388,1510],[377,1530],[367,1540],[370,1527],[377,1517],[383,1503],[380,1488],[388,1478],[385,1467]]]}},
{"type":"Feature","properties":{"t":"t5"},"geometry":{"type":"Polygon","coordinates":[[[303,1530],[313,1517],[320,1510],[330,1497],[343,1503],[367,1507],[370,1527],[365,1540],[343,1530],[323,1533],[307,1537],[303,1530]]]}}
],
"borders":[
{"type":"Feature","properties":{},"geometry":{"type":"MultiLineString","coordinates":[
[[36,232],[42,250],[25,281],[44,302],[59,338],[33,352],[28,327],[12,332]],
[[125,232],[125,243]],[[47,233],[62,233]],
[[341,232],[343,252],[334,274],[341,320],[359,324],[347,341],[352,359]],
[[566,234],[543,245],[531,266],[507,274],[498,295],[522,324],[516,343],[525,359],[513,366],[477,366],[472,384],[477,395],[463,404],[485,413],[483,431],[469,443]],
[[869,234],[878,249],[905,245],[913,256],[910,274],[917,286]],
[[917,350],[899,354],[910,374],[902,388],[910,400],[896,418],[917,431]],
[[11,889],[40,889],[57,885],[65,890]],
[[11,1013],[28,1017],[24,1043],[11,1050]],[[12,1100],[24,1125]],
[[13,1223],[36,1228],[50,1234],[59,1256],[19,1282],[21,1323],[47,1336],[74,1360],[89,1356],[133,1382]],
[[12,1392],[30,1395],[53,1395],[74,1392],[74,1360]],
[[212,1463],[220,1483],[247,1483],[265,1497],[255,1503],[265,1517],[267,1537],[257,1543],[268,1570],[231,1605],[255,1616],[258,1631]],
[[708,1507],[717,1513],[740,1513],[760,1497],[770,1495],[783,1510],[800,1517],[808,1513],[830,1535],[843,1537],[870,1560],[883,1563],[892,1570]],
[[917,1590],[884,1605],[890,1625],[917,1635]],
[[722,1377],[737,1382],[755,1382],[757,1387],[773,1379],[793,1397],[810,1387],[833,1407],[857,1402],[860,1412],[887,1395],[902,1400],[910,1393],[917,1400]],
[[820,942],[833,933],[837,925],[852,915],[865,910],[877,913],[880,903],[873,893],[878,883],[897,872],[917,868]],
[[917,1057],[900,1073],[910,1110],[907,1133],[917,1135]],
[[514,697],[525,708],[530,737]]
]}}
],
"cityLines":[
{"type":"Feature","properties":{},"geometry":{"type":"MultiLineString","coordinates":[
[[468,1217],[466,1245]],[[427,1300],[455,1305],[470,1295]],[[457,1305],[453,1287]],[[445,1303],[443,1320],[455,1340]],[[487,1300],[510,1287]],[[436,1262],[423,1273]],[[460,1253],[464,1267]]
]}}
],
"frame":[
{"type":"Feature","properties":{},"geometry":{"type":"LineString","coordinates":[[10,232],[918,232],[918,1670],[10,1670],[10,232]]}}
],
"dots":[
{"lon":332,"lat":432},{"lon":386,"lat":446},{"lon":382,"lat":550},{"lon":257,"lat":570},{"lon":262,"lat":686},{"lon":334,"lat":688},{"lon":414,"lat":672},{"lon":188,"lat":704},{"lon":460,"lat":730},{"lon":528,"lat":756},{"lon":174,"lat":768},{"lon":302,"lat":758},{"lon":396,"lat":802},{"lon":498,"lat":800},{"lon":124,"lat":826},{"lon":262,"lat":834},{"lon":440,"lat":858},{"lon":480,"lat":862},{"lon":358,"lat":880},{"lon":224,"lat":892},{"lon":406,"lat":898},{"lon":142,"lat":914},{"lon":284,"lat":912},{"lon":328,"lat":916},{"lon":438,"lat":932},{"lon":410,"lat":958},{"lon":334,"lat":962},{"lon":256,"lat":974},{"lon":480,"lat":980},{"lon":380,"lat":996},{"lon":204,"lat":1012},{"lon":152,"lat":1008},{"lon":286,"lat":1036},{"lon":422,"lat":1066},{"lon":354,"lat":1076},{"lon":214,"lat":1086},{"lon":290,"lat":1086},{"lon":464,"lat":1096},{"lon":270,"lat":1148},{"lon":472,"lat":1140},
{"lon":538,"lat":874},{"lon":604,"lat":868},{"lon":640,"lat":924},{"lon":550,"lat":936},{"lon":624,"lat":982},{"lon":682,"lat":954},{"lon":750,"lat":976},{"lon":532,"lat":1012},{"lon":666,"lat":1014},{"lon":806,"lat":1022},{"lon":582,"lat":1030},{"lon":514,"lat":1056},{"lon":678,"lat":1058},{"lon":758,"lat":1104},{"lon":816,"lat":1106},{"lon":700,"lat":1126},{"lon":592,"lat":1126},
{"lon":284,"lat":1180},{"lon":364,"lat":1178},{"lon":476,"lat":1182},{"lon":404,"lat":1192},{"lon":464,"lat":1206},{"lon":234,"lat":1218},{"lon":554,"lat":1220},{"lon":338,"lat":1246},{"lon":398,"lat":1246},{"lon":462,"lat":1230},{"lon":476,"lat":1232},{"lon":450,"lat":1242},{"lon":462,"lat":1248},{"lon":470,"lat":1252},{"lon":474,"lat":1259},{"lon":602,"lat":1250},{"lon":436,"lat":1262},{"lon":450,"lat":1262},{"lon":498,"lat":1262},{"lon":464,"lat":1267},{"lon":494,"lat":1270},{"lon":256,"lat":1270},{"lon":550,"lat":1272},{"lon":438,"lat":1278},{"lon":474,"lat":1276},{"lon":462,"lat":1276},{"lon":458,"lat":1282},{"lon":498,"lat":1282},{"lon":468,"lat":1284},{"lon":480,"lat":1286},{"lon":368,"lat":1294},{"lon":420,"lat":1296},{"lon":446,"lat":1294},{"lon":460,"lat":1294},{"lon":476,"lat":1294},{"lon":220,"lat":1320},{"lon":302,"lat":1323},{"lon":430,"lat":1322},{"lon":446,"lat":1328},{"lon":576,"lat":1318},{"lon":498,"lat":1336},{"lon":396,"lat":1350},{"lon":336,"lat":1358},{"lon":174,"lat":1376},{"lon":532,"lat":1384},{"lon":462,"lat":1406},{"lon":324,"lat":1410},{"lon":266,"lat":1410},{"lon":202,"lat":1422},{"lon":412,"lat":1426},{"lon":338,"lat":1450},{"lon":306,"lat":1470},{"lon":360,"lat":1492},{"lon":412,"lat":1490},{"lon":344,"lat":1518},{"lon":516,"lat":1434},
{"lon":664,"lat":1176},{"lon":756,"lat":1176},{"lon":708,"lat":1234},{"lon":732,"lat":1252},{"lon":680,"lat":1290},{"lon":694,"lat":1332},{"lon":620,"lat":1354},{"lon":660,"lat":1370},{"lon":696,"lat":1382},{"lon":606,"lat":1394},{"lon":618,"lat":1432},{"lon":658,"lat":1458}],
"labels":[
{"n":"Weiswampach","lon":386,"lat":472},{"n":"Clervaux","lon":380,"lat":576},{"n":"Wincrange","lon":256,"lat":596},{"n":"Parc Hosingen","lon":413,"lat":697},{"n":"Wiltz","lon":260,"lat":710},{"n":"Winseler","lon":188,"lat":728},{"n":"Putscheid","lon":460,"lat":754},{"n":"Lac de la Haute-Sûre","lon":175,"lat":795},{"n":"Bourscheid","lon":396,"lat":827},{"n":"Tandel","lon":498,"lat":827},{"n":"Boulaide","lon":123,"lat":851},{"n":"Esch-sur-Sûre","lon":262,"lat":858},{"n":"Bettendorf","lon":538,"lat":900},{"n":"Rambrouch","lon":142,"lat":940},{"n":"Echternach","lon":750,"lat":1000},{"n":"Vichten","lon":334,"lat":986},{"n":"Bissen","lon":379,"lat":1023},{"n":"Ell","lon":152,"lat":1034},{"n":"Rosport","lon":807,"lat":1048},{"n":"Heffingen","lon":582,"lat":1055},{"n":"Useldange","lon":286,"lat":1061},{"n":"Bech","lon":677,"lat":1084},{"n":"Beckerich","lon":214,"lat":1113},{"n":"Mertert","lon":816,"lat":1133},{"n":"Junglinster","lon":592,"lat":1151},{"n":"Biwer","lon":701,"lat":1151},{"n":"Grevenmacher","lon":756,"lat":1201},{"n":"Koerich","lon":283,"lat":1206},{"n":"Kopstal","lon":404,"lat":1218},{"n":"Steinfort","lon":234,"lat":1244},{"n":"Mamer","lon":339,"lat":1271},{"n":"Garnich","lon":256,"lat":1294},{"n":"Bertrange","lon":367,"lat":1318},{"n":"Hesperange","lon":498,"lat":1361},{"n":"Bascharage","lon":219,"lat":1344},{"n":"Reckange-sur-Mess","lon":335,"lat":1384},{"n":"Remich","lon":696,"lat":1408},{"n":"Differdange","lon":201,"lat":1448},{"n":"Bettembourg","lon":412,"lat":1453},{"n":"Schengen","lon":657,"lat":1484},{"n":"Rumelange","lon":343,"lat":1545}],
"logoL":[{"type":"Feature","properties":{},"geometry":{"type":"Polygon","coordinates":[[[20,20],[33,20],[33,62],[37,69],[69,69],[69,79],[36,79],[26,74],[21,64],[20,20]]]}}],
"logoD":[{"type":"Feature","properties":{},"geometry":{"type":"Polygon","coordinates":[[[35,20],[58,20],[66,25],[69,33],[69,68],[45,68],[37,64],[35,58],[35,20]],[[45,28],[45,55],[60,55],[60,34],[56,28],[45,28]]]}}],
"swirl":[{"type":"Feature","properties":{},"geometry":{"type":"MultiLineString","coordinates":[
[[3114,56],[3112,63],[3107,68],[3100,70],[3093,68],[3088,63],[3086,56],[3088,49],[3093,44],[3100,42],[3107,44],[3112,49],[3114,56]],
[[3114,56],[3108.5,59],[3102.6,59],[3100,56]],[[3110,66],[3103.8,64.2],[3099.7,60],[3100,56]],[[3100,70],[3096.9,64.5],[3097,58.6],[3100,56]],[[3090,66],[3091.8,59.8],[3096,55.7],[3100,56]],[[3086,56],[3091.5,53],[3097.4,53],[3100,56]],[[3090,46],[3096.2,47.8],[3100.3,52],[3100,56]],[[3100,42],[3103.1,47.5],[3103,53.4],[3100,56]],[[3110,46],[3108.2,52.2],[3104,56.3],[3100,56]]
]}}]
},
"vconcat":[
{"width":3200,"height":108,"projection":{"type":"identity","scale":1,"translate":[0,0]},
 "layer":[
 {"data":{"name":"logoL"},"mark":{"type":"geoshape","fill":"#1c1c3a","stroke":null}},
 {"data":{"name":"logoD"},"mark":{"type":"geoshape","stroke":null,"fill":{"x1":1,"y1":0,"x2":0,"y2":1,"gradient":"linear","stops":[{"offset":0,"color":"#19e3e6"},{"offset":1,"color":"#3d9eff"}]}}},
 {"data":{"name":"swirl"},"mark":{"type":"geoshape","filled":false,"stroke":"#111111","strokeWidth":1.8}},
 {"data":{"values":[{"t":"REAL ESTATE ANALYTICS - GRAND DUCHY of LUXEMBOURG"}]},"mark":{"type":"text","fontSize":32,"fontWeight":"normal","color":"#333333","dy":3},"encoding":{"text":{"field":"t"}}},
 {"data":{"values":[{"t":"Lux"}]},"mark":{"type":"text","font":"Inter","fontSize":49,"color":"#1c1c3a","align":"left","dx":-1516,"dy":-4},"encoding":{"text":{"field":"t"}}},
 {"data":{"values":[{"t":"Data"}]},"mark":{"type":"text","font":"Inter","fontWeight":300,"fontSize":49,"color":"#1c1c3a","align":"left","dx":-1431,"dy":-4},"encoding":{"text":{"field":"t"}}}
 ]},
{"width":3200,"height":104,"view":{"fill":"#434678"},
 "data":{"values":[{"t":"Apartments for Sale – Listings & Asking Prices by Municipality"}]},
 "mark":{"type":"text","fontSize":38,"color":"#ffffff","dy":6},"encoding":{"text":{"field":"t"}}},
{"bounds":"flush","spacing":0,"hconcat":[
 {"width":918,"height":1468,"projection":{"type":"identity","scale":1,"translate":[0,-212],"reflectY":false},
  "layer":[
  {"data":{"name":"frame"},"mark":{"type":"geoshape","filled":false,"stroke":"#e4e4e4","strokeWidth":1.5}},
  {"data":{"name":"borders"},"mark":{"type":"geoshape","filled":false,"stroke":"#a9bccb","strokeWidth":2}},
  {"data":{"name":"communes"},"mark":{"type":"geoshape","stroke":"#666666","strokeWidth":1},
   "encoding":{"color":{"field":"properties.t","type":"nominal","legend":null,"scale":{"domain":["t0","t1","t2","t3","t4","t5","t6","t7","t8","t9","t10","t11","t12","t13","t14"],"range":["#ffffff","#efefef","#e8e8e8","#d6d8da","#cbd0d5","#b7c3d1","#a0b4cb","#8ea8c4","#7b9abd","#6c91bb","#5a83b3","#4b79ab","#2f65a0","#124d91","#003a80"]}}}},
  {"data":{"name":"cityLines"},"mark":{"type":"geoshape","filled":false,"stroke":"#666666","strokeWidth":1}},
  {"data":{"name":"dots"},"mark":{"type":"circle","size":78,"color":"#000000","opacity":1},"encoding":{"longitude":{"field":"lon","type":"quantitative"},"latitude":{"field":"lat","type":"quantitative"}}},
  {"data":{"name":"labels"},"mark":{"type":"text","fontSize":22,"color":"#111111"},"encoding":{"longitude":{"field":"lon","type":"quantitative"},"latitude":{"field":"lat","type":"quantitative"},"text":{"field":"n"}}},
  {"data":{"values":[{"n":"© 2026 Mapbox © OpenStreetMap","lon":25,"lat":1648}]},"mark":{"type":"text","font":"Liberation Sans","fontSize":22,"color":"#666666","align":"left"},"encoding":{"longitude":{"field":"lon","type":"quantitative"},"latitude":{"field":"lat","type":"quantitative"},"text":{"field":"n"}}}
  ]},
 {"width":224,"height":1468,"data":{"values":[{"a":1}]},"mark":{"type":"rect","opacity":0}},
 {"width":420,"height":1367.5,
  "layer":[
  {"data":{"name":"rank"},"mark":{"type":"bar","color":"#0066ad","stroke":"#d3d3d3","strokeWidth":1.5},
   "encoding":{"y":{"field":"name","type":"nominal","sort":null,"scale":{"range":[167.5,1367.5],"paddingInner":0.26,"paddingOuter":0.13},"axis":{"title":null,"ticks":false,"domainColor":"#dddddd","domainDash":[2,8],"labelAlign":"left","labelPadding":181,"labelFontSize":22,"labelColor":"#333333","labelLimit":300}},
    "x":{"field":"price","type":"quantitative","scale":{"domain":[0,26600],"nice":false},"axis":null}}},
  {"data":{"name":"rank"},"transform":[{"calculate":"'€ ' + format(datum.price, ',')","as":"label"}],"mark":{"type":"text","align":"left","dx":8,"fontSize":23,"color":"#ffffff"},
   "encoding":{"y":{"field":"name","type":"nominal","sort":null},"x":{"datum":0},"text":{"field":"label"}}},
  {"data":{"name":"one"},"mark":{"type":"text","fontSize":30,"fontWeight":"bold","align":"left","dx":-109,"dy":-626,"color":"#000000","text":"Change"}},
  {"data":{"name":"one"},"mark":{"type":"text","fontSize":30,"fontWeight":"bold","align":"left","dx":10,"dy":-626,"color":"#4e79a7","text":"2025"}},
  {"data":{"name":"one"},"mark":{"type":"text","fontSize":30,"fontWeight":"bold","align":"left","dx":86,"dy":-626,"color":"#000000","text":"vs"}},
  {"data":{"name":"one"},"mark":{"type":"text","fontSize":30,"fontWeight":"bold","align":"left","dx":126,"dy":-626,"color":"#9c56a8","text":"2024"}},
  {"data":{"name":"one"},"mark":{"type":"text","fontSize":26,"fontWeight":"normal","dx":42,"dy":-587,"color":"#222222","text":"Average asking price apartment €/m²"}}
  ]},
 {"width":466,"height":1367.5,"data":{"name":"rank"},
  "transform":[{"calculate":"replace(format(datum.pct, '.1%'), '−', '-')","as":"label"}],
  "encoding":{"y":{"field":"name","type":"nominal","sort":null,"scale":{"range":[167.5,1367.5],"paddingInner":0.26,"paddingOuter":0.13},"axis":null},
   "x":{"field":"pct","type":"quantitative","scale":{"domain":[-0.2913,4.233],"nice":false},"axis":null}},
  "layer":[
  {"mark":{"type":"bar","color":"#9c4fa8","stroke":"#d3d3d3","strokeWidth":1.5}},
  {"transform":[{"filter":"datum.pct >= 0"}],"mark":{"type":"text","align":"left","dx":8,"fontSize":22,"color":"#333333"},"encoding":{"text":{"field":"label"}}},
  {"transform":[{"filter":"datum.pct < 0"}],"mark":{"type":"text","align":"right","dx":-13,"fontSize":22,"color":"#333333"},"encoding":{"text":{"field":"label"}}}
  ]},
 {"width":737,"height":1407,
  "resolve":{"scale":{"y":"independent"},"axis":{"y":"independent"}},
  "layer":[
  {"data":{"name":"years"},"encoding":{"x":{"field":"year","type":"ordinal","scale":{"type":"band","paddingInner":0.04,"paddingOuter":0.02},"axis":{"title":null,"labelAngle":0,"labelFontSize":18,"labelColor":"#333333","tickBand":"extent","tickColor":"#dddddd","tickSize":10,"domain":false,"labelPadding":4}},"y":{"field":"price","type":"quantitative","scale":{"domain":[0,11660],"nice":false,"range":[788,128]},"axis":{"orient":"left","values":[0,2000,4000,6000,8000,10000],"labelExpr":"format(datum.value/1000,'d')+'K'","grid":false,"domain":false,"tickColor":"#eeeeee","tickSize":10,"labelFontSize":23,"labelColor":"#666666","labelPadding":6,"labelBaseline":{"condition":{"test":"datum.value == 0","value":"bottom"},"value":"middle"},"labelOffset":{"condition":{"test":"datum.value == 0","value":-3},"value":2},"title":"Average advertised price per m² (€)","titleFontSize":23,"titleFontWeight":"normal","titleColor":"#555555","titleX":-108,"titleY":481}}},
   "layer":[
   {"mark":{"type":"rule","color":"#cccccc","strokeDash":[3,3],"strokeWidth":1},"encoding":{"x":null,"y":{"datum":0}}},
   {"mark":{"type":"line","color":"#1fb896","strokeWidth":4.5}},
   {"mark":{"type":"circle","color":"#1fb896","size":120,"opacity":1}},
   {"transform":[{"filter":"datum.year == '2010'"}],"mark":{"type":"text","fontSize":22,"color":"#333333","align":"left","dx":-24,"dy":24,"text":"€3,990/m²"}},
   {"transform":[{"filter":"datum.year == '2025'"}],"mark":{"type":"text","fontSize":22,"color":"#333333","align":"right","dx":20,"dy":21,"text":"€9,464/m²"}}
   ]},
  {"data":{"name":"years"},"encoding":{"x":{"field":"year","type":"ordinal"},"y":{"field":"offers","type":"quantitative","scale":{"domain":[0,44468],"nice":false,"range":[1407,788]},"axis":{"orient":"left","values":[0,10000,20000,30000,40000],"labelExpr":"format(datum.value,',')","grid":false,"domain":false,"tickColor":"#eeeeee","tickSize":10,"labelFontSize":23,"labelColor":"#666666","labelPadding":5,"labelBaseline":{"condition":{"test":"datum.value == 0","value":"bottom"},"value":"middle"},"labelOffset":{"condition":{"test":"datum.value == 0","value":-2},"value":2},"title":"Number of offers","titleFontSize":24,"titleFontWeight":"normal","titleColor":"#333333","titleX":-105,"titleY":1096}}},
   "layer":[
   {"mark":{"type":"bar","color":"#d8d5d3"}},
   {"mark":{"type":"text","angle":270,"align":"left","baseline":"middle","dx":6,"fontSize":22,"color":"#444444"},"encoding":{"y":{"datum":0},"text":{"field":"offers","format":","}}}
   ]},
  {"data":{"name":"one"},"mark":{"type":"text","fontSize":30,"fontWeight":"bold","align":"left","dx":-398.5,"dy":-646.5,"color":"#0aa87e","text":"Average asking prices"}},
  {"data":{"name":"one"},"mark":{"type":"text","fontSize":30,"fontWeight":"bold","align":"left","dx":-66.5,"dy":-646.5,"color":"#000000","text":"and #of units for sale"}},
  {"data":{"name":"one"},"mark":{"type":"text","fontSize":26,"fontWeight":"normal","dx":-74.5,"dy":-606.5,"color":"#333333","text":"Moyenne nationale"}}
  ]},
 {"width":21,"height":1468,"data":{"values":[{"a":1}]},"mark":{"type":"rect","opacity":0}},
 {"width":3,"height":1468,"view":{"fill":"#d9d9d9"},"data":{"values":[{"a":1}]},"mark":{"type":"rect","opacity":0}},
 {"width":411,"height":1468,"view":{"fill":"#f5f5f5"},"data":{"values":[{"a":1}]},
  "layer":[
  {"mark":{"type":"text","fontSize":23.5,"color":"#333333","align":"left","dx":-178.5,"dy":-665,"text":"Sort"}},
  {"mark":{"type":"text","fontSize":23.5,"color":"#333333","align":"left","dx":-174.5,"dy":-631,"text":"By price"}},
  {"mark":{"type":"text","fontSize":23.5,"color":"#333333","align":"left","dx":-178.5,"dy":-567,"text":"Compare to date"}},
  {"mark":{"type":"text","fontSize":23.5,"color":"#333333","align":"left","dx":-174.5,"dy":-533,"text":"2024"}},
  {"mark":{"type":"text","fontSize":23.5,"color":"#333333","align":"left","dx":-178.5,"dy":-443,"text":"Top N Cum.."}},
  {"mark":{"type":"text","fontSize":23.5,"color":"#333333","align":"left","dx":-30.5,"dy":-451,"text":"30"}},
  {"mark":{"type":"text","fontSize":23.5,"color":"#ff0000","align":"left","dx":-173.5,"dy":-377,"text":"Gaps or missing communes"}},
  {"mark":{"type":"text","fontSize":23.5,"color":"#ff0000","align":"left","dx":-173.5,"dy":-343,"text":"indicate fewer than 10 units"}},
  {"mark":{"type":"text","fontSize":23.5,"color":"#ff0000","align":"left","dx":-173.5,"dy":-309,"text":"sold or incomplete data"}},
  {"mark":{"type":"text","fontSize":23.5,"color":"#ff0000","align":"left","dx":-173.5,"dy":-275,"text":"availability."}}
  ]}
 ]},
{"width":3200,"height":120,"data":{"values":[{"a":1}]},
 "layer":[
 {"mark":{"type":"text","fontSize":21.95,"color":"#222222","align":"left","dx":-1584,"dy":-22,"text":"Analysis: LuxData | Data: LISER | Publication Date: December 2025 | The housing prices presented here are derived from real estate listings published in the press and on the IMMOTOP.LU portal. These are asking prices set by sellers at the time of listing, not actual sale prices. The Housing Observatory"}},
 {"mark":{"type":"text","fontSize":21.95,"color":"#222222","align":"left","dx":-1584,"dy":10,"text":"updates these quarterly statistics by municipality, based on listings from the preceding twelve months."}}
 ]}
]
}
